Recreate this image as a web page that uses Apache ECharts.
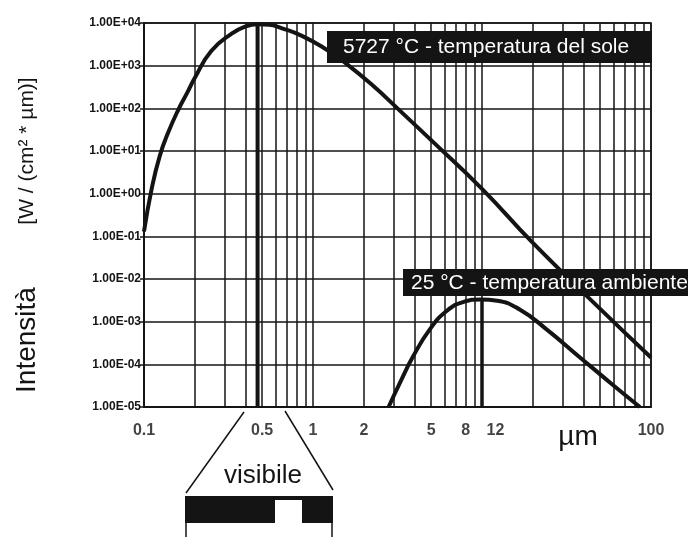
<!DOCTYPE html>
<html>
<head>
<meta charset="utf-8">
<script src="https://cdn.jsdelivr.net/npm/echarts@6/dist/echarts.min.js"></script>
<style>
  html, body { margin: 0; padding: 0; background: #fff; }
  #chart { width: 688px; height: 537px; }
</style>
</head>
<body>
<div id="chart"></div>
<script>
// curva del sole (5727 °C)
const sunWavelength = [0.1, 0.111, 0.124, 0.139, 0.16, 0.18, 0.2, 0.25, 0.33, 0.4, 0.47, 0.55, 0.65, 0.86, 1.2, 1.5, 2.2, 3.3, 5, 10, 20, 50, 100]
const sunIntensity = [0.13, 1.3, 7.7, 27, 95, 230, 520, 2200, 5600, 8300, 9300, 9100, 7600, 5000, 2400, 1290, 375, 85, 18, 1.3, 0.07, 0.002, 0.000145]

// curva a temperatura ambiente (25 °C)
const ambWavelength = [2.8, 3.3, 3.9, 4.9, 6.2, 7.8, 9.8, 12.3, 16.8, 24, 38, 60, 86]
const ambIntensity = [1e-5, 4e-5, 1.5e-4, 6.5e-4, 1.8e-3, 2.9e-3, 3.3e-3, 3.1e-3, 1.9e-3, 6.7e-4, 1.45e-4, 3.2e-5, 1e-5]

// linee verticali spesse: picco visibile e picco ambiente
const visiblePeakX = 0.47
const ambientPeakX = 10
const ambientPeakY = 3.3e-3

const xTickLabels = [0.1, 0.5, 1, 2, 5, 8, 12, 100]
const minorGridX = [0.2, 0.3, 0.4, 0.5, 0.6, 0.7, 0.8, 0.9, 2, 3, 4, 5, 6, 7, 8, 9, 20, 30, 40, 50, 60, 70, 80, 90]

const FONT = "'Liberation Sans', Arial, sans-serif"
const INK = '#141414'

function zip(xs, ys) {
  return xs.map((x, i) => [x, ys[i]])
}

function sciLabel(v) {
  const e = Math.round(Math.log10(v))
  return '1.00E' + (e < 0 ? '-' : '+') + String(Math.abs(e)).padStart(2, '0')
}

const myChart = echarts.init(document.getElementById('chart'))
const option = {
  backgroundColor: '#fff',
  animation: false,
  grid: {
    left: 144,
    right: 37,
    top: 23,
    bottom: 130,
    show: true,
    borderColor: INK,
    borderWidth: 1.5
  },
  xAxis: {
    type: 'log',
    logBase: 10,
    min: 0.1,
    max: 100,
    interval: 1,
    axisLine: { show: true, lineStyle: { color: INK, width: 2 } },
    axisTick: { show: false },
    axisLabel: { show: false },
    splitLine: { show: true, lineStyle: { color: INK, width: 1.5 } }
  },
  yAxis: {
    type: 'log',
    logBase: 10,
    min: 1e-5,
    max: 1e4,
    interval: 1,
    axisLine: { show: true, lineStyle: { color: INK, width: 2 } },
    axisTick: { show: true, inside: false, length: 4, lineStyle: { color: INK, width: 1.5 } },
    axisLabel: {
      formatter: sciLabel,
      color: INK,
      fontFamily: FONT,
      fontWeight: 'bold',
      fontSize: 12,
      margin: 3
    },
    splitLine: { show: true, lineStyle: { color: INK, width: 1.5 } }
  },
  series: [
    {
      name: 'griglia',
      type: 'line',
      data: [],
      silent: true,
      markLine: {
        silent: true,
        symbol: 'none',
        label: { show: false },
        lineStyle: { color: INK, width: 1.5, type: 'solid' },
        data: minorGridX.map(v => ({ xAxis: v }))
      }
    },
    {
      name: '5727 °C',
      type: 'line',
      data: zip(sunWavelength, sunIntensity),
      smooth: 0.5,
      symbol: 'none',
      lineStyle: { color: INK, width: 4 },
      z: 5
    },
    {
      name: '25 °C',
      type: 'line',
      data: zip(ambWavelength, ambIntensity),
      smooth: 0.5,
      symbol: 'none',
      lineStyle: { color: INK, width: 4 },
      z: 5
    },
    {
      name: 'picco visibile',
      type: 'line',
      data: [[visiblePeakX, 1e-5], [visiblePeakX, 1e4]],
      symbol: 'none',
      lineStyle: { color: INK, width: 4 },
      z: 4
    },
    {
      name: 'picco ambiente',
      type: 'line',
      data: [[ambientPeakX, 1e-5], [ambientPeakX, ambientPeakY]],
      symbol: 'none',
      lineStyle: { color: INK, width: 3.5 },
      z: 4
    },
    {
      name: 'etichette x',
      type: 'scatter',
      data: xTickLabels.map(v => [v, 1e-5]),
      symbolSize: 0,
      clip: false,
      silent: true,
      label: {
        show: true,
        position: 'bottom',
        distance: 16,
        formatter: p => String(p.value[0]),
        color: INK,
        fontFamily: FONT,
        fontWeight: 'bold',
        fontSize: 16
      }
    }
  ],
  graphic: [
    // titolo asse y
    {
      type: 'text', x: 27, y: 340, rotation: Math.PI / 2,
      style: { text: 'Intensità', fill: INK, font: '28px ' + FONT, textAlign: 'center', textVerticalAlign: 'middle' }
    },
    {
      type: 'text', x: 27, y: 151, rotation: Math.PI / 2,
      style: { text: '[W / (cm² * µm)]', fill: INK, font: '21px ' + FONT, textAlign: 'center', textVerticalAlign: 'middle' }
    },
    // unità asse x
    {
      type: 'text', x: 578, y: 437,
      style: { text: 'µm', fill: INK, font: '28px ' + FONT, textAlign: 'center', textVerticalAlign: 'middle' }
    },
    // etichette delle curve
    { type: 'rect', shape: { x: 327, y: 31, width: 325, height: 32 }, style: { fill: INK }, z: 10 },
    {
      type: 'text', x: 343, y: 47, z: 11,
      style: { text: '5727 °C - temperatura del sole', fill: '#fff', font: '21px ' + FONT, textVerticalAlign: 'middle' }
    },
    { type: 'rect', shape: { x: 403, y: 269, width: 285, height: 27 }, style: { fill: INK }, z: 10 },
    {
      type: 'text', x: 411, y: 283, z: 11,
      style: { text: '25 °C - temperatura ambiente', fill: '#fff', font: '21px ' + FONT, textVerticalAlign: 'middle' }
    },
    // spettro visibile
    { type: 'line', shape: { x1: 244, y1: 412, x2: 186, y2: 493 }, style: { stroke: INK, lineWidth: 1.5 } },
    { type: 'line', shape: { x1: 285, y1: 411, x2: 333, y2: 490 }, style: { stroke: INK, lineWidth: 1.5 } },
    {
      type: 'text', x: 263, y: 476,
      style: { text: 'visibile', fill: INK, font: '26px ' + FONT, textAlign: 'center', textVerticalAlign: 'middle' }
    },
    { type: 'rect', shape: { x: 185, y: 496, width: 148, height: 27 }, style: { fill: INK } },
    { type: 'rect', shape: { x: 275, y: 500, width: 27, height: 23 }, style: { fill: '#fff' } },
    { type: 'line', shape: { x1: 186, y1: 523, x2: 186, y2: 537 }, style: { stroke: INK, lineWidth: 1.5 } },
    { type: 'line', shape: { x1: 332, y1: 523, x2: 332, y2: 537 }, style: { stroke: INK, lineWidth: 1.5 } }
  ]
}
myChart.setOption(option)
</script>
</body>
</html>
